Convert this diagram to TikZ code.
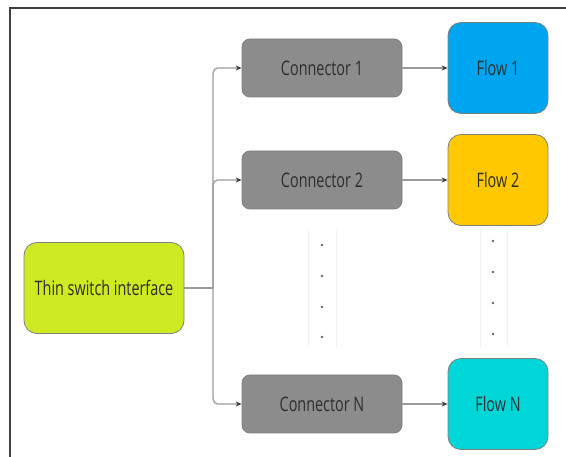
\documentclass[tikz,border=0pt]{standalone}
\usepackage{fontspec}
\setmainfont{Open Sans}[FakeStretch=0.72]
\usetikzlibrary{arrows.meta}

\definecolor{limebox}{HTML}{CEEA22}
\definecolor{congray}{HTML}{8C8C8C}
\definecolor{flowblue}{HTML}{00A5F0}
\definecolor{flowyellow}{HTML}{FFC800}
\definecolor{flowcyan}{HTML}{00D5D8}
\definecolor{linegray}{HTML}{9A9A9A}

\begin{document}
\begin{tikzpicture}[x=1pt,y=-1pt,
  box/.style={draw=black!50, line width=0.8pt, text=black!82,
    font=\fontsize{20}{24}\selectfont, inner sep=0pt},
  conbox/.style={box, fill=congray, minimum width=160pt, minimum height=58pt, rounded corners=8pt},
  flowbox/.style={box, minimum width=100pt, minimum height=91pt, rounded corners=13pt},
  link/.style={draw=linegray, line width=1.2pt, rounded corners=5pt,
    -{Stealth[length=6pt,width=5pt,color=black!75]}}]
  \useasboundingbox (0,0) rectangle (566,457);
  \draw[line width=2pt, black!75] (10,457) -- (10,8) -- (566,8);

  \node[box, fill=limebox, minimum width=160pt, minimum height=91pt,
    rounded corners=13pt] (iface) at (104,288) {Thin switch interface};

  \node[conbox] (con1) at (322,68) {Connector 1};
  \node[conbox] (con2) at (322,180) {Connector 2};
  \node[conbox] (conN) at (322,404) {Connector N};

  \node[flowbox, fill=flowblue] (flow1) at (498,68) {Flow 1};
  \node[flowbox, fill=flowyellow] (flow2) at (498,180) {Flow 2};
  \node[flowbox, fill=flowcyan] (flowN) at (498,404) {Flow N};

  % dotted gaps
  \foreach \x/\y in {308/229,336/229,480/229,507/229}
    \draw[black!5, line width=0.8pt] (\x,\y) -- (\x,348);
  \foreach \y in {245,276,307,337}
    \fill[black!60] (322,\y) circle (1.3pt);
  \foreach \y in {241,272,303,334}
    \fill[black!60] (493,\y) circle (1.3pt);

  \coordinate (jn) at (213,288);
  \draw[draw=linegray, line width=1.2pt] (iface.east) -- (jn);
  \foreach \c in {con1,con2,conN}
    \draw[link] (jn) |- (\c.west);
  \draw[link] (con1) -- (flow1);
  \draw[link] (con2) -- (flow2);
  \draw[link] (conN) -- (flowN);
\end{tikzpicture}
\end{document}
